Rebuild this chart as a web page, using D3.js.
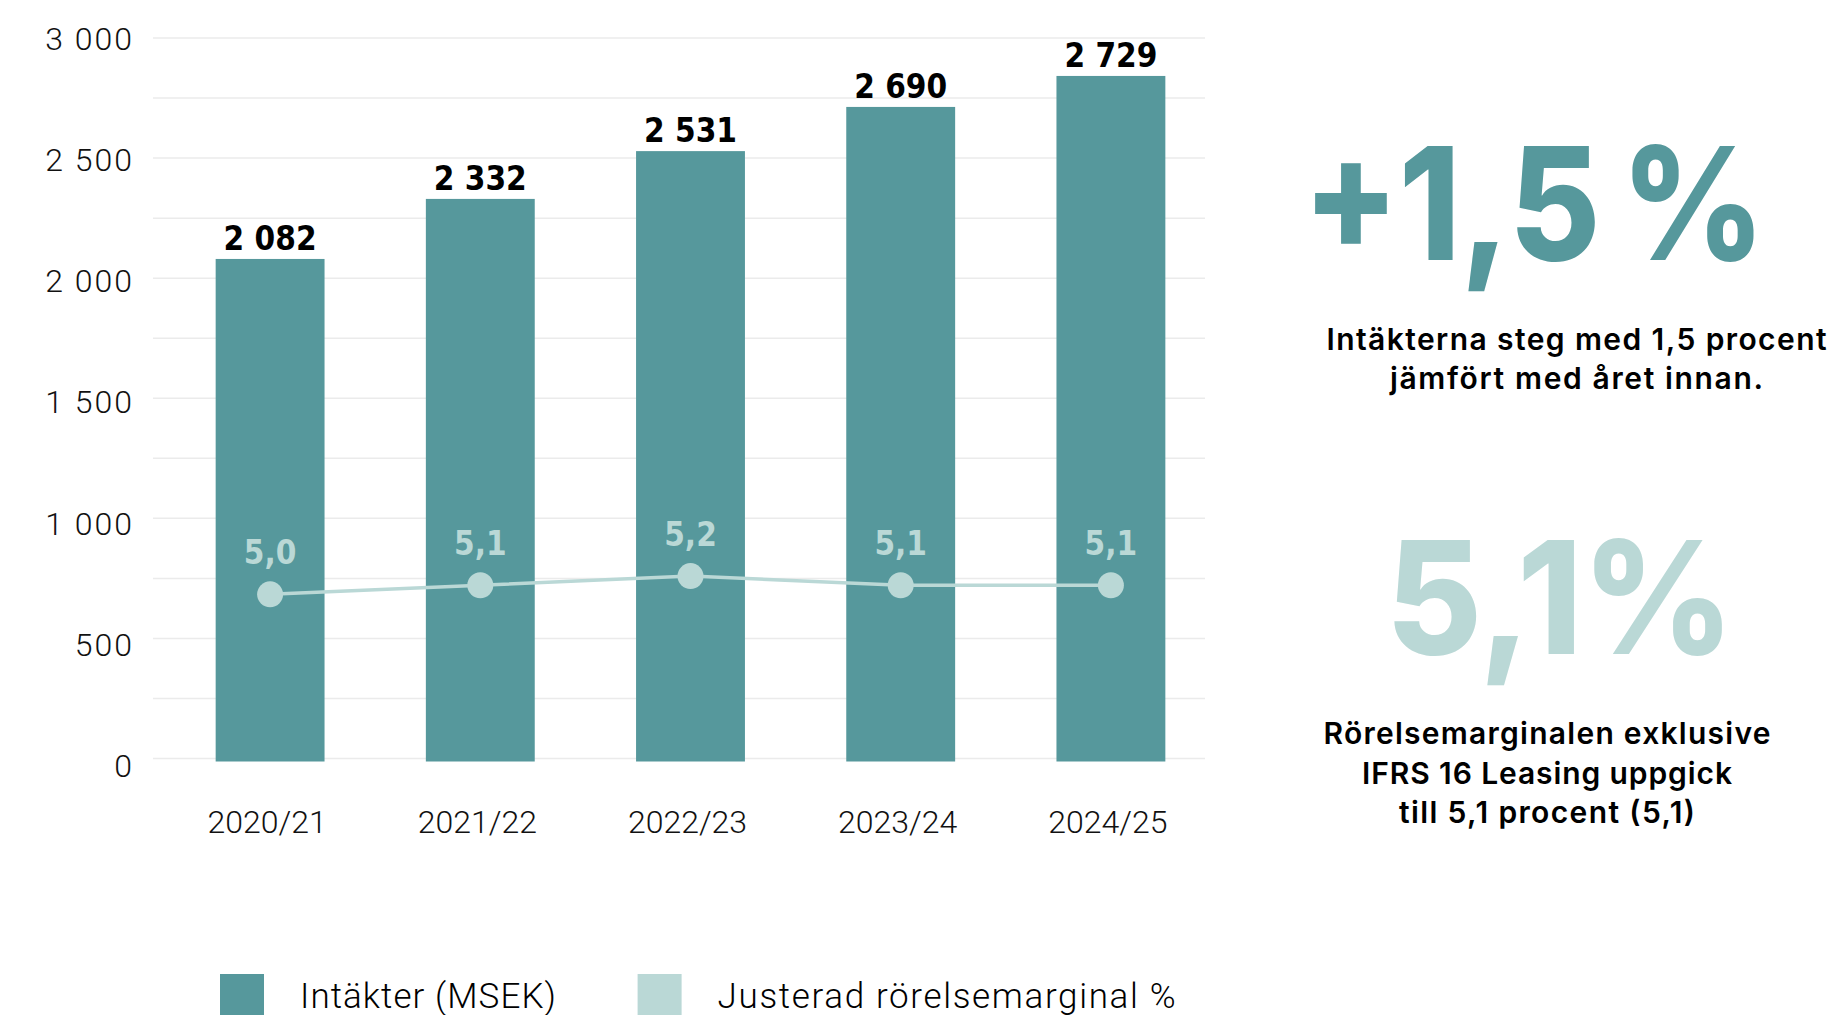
<!DOCTYPE html>
<html lang="sv">
<head>
<meta charset="utf-8">
<script src="https://cdn.jsdelivr.net/npm/d3@7"></script>
<style>
  body { margin: 0; background: #fff; }
  svg { display: block; }
  .tick-label { font-family: Roboto, "DejaVu Sans", sans-serif; font-weight: 300; font-size: 32px; fill: #111; }
  .value-label { font-family: "DejaVu Sans Condensed", "DejaVu Sans", sans-serif; font-stretch: condensed; font-weight: bold; font-size: 33px; }
  .big { font-family: Inter, Roboto, sans-serif; font-weight: 800; font-size: 157px; }
  .para { font-family: Inter, Roboto, sans-serif; font-weight: 600; font-size: 30px; fill: #000; }
  .legend-label { font-family: Roboto, sans-serif; font-weight: 300; font-size: 35px; fill: #000; }
</style>
</head>
<body>
<svg id="chart" width="1834" height="1015"></svg>
<script>
// data
const years = ["2020/21", "2021/22", "2022/23", "2023/24", "2024/25"];
const intakter = [2082, 2332, 2531, 2690, 2729];          // printed values (MSEK)
const barHeights = [2080, 2330, 2529, 2713, 2842];        // bar heights as drawn in the picture
const marginal = [5.0, 5.1, 5.2, 5.1, 5.1];               // justerad rörelsemarginal %
const yTicks = [0, 500, 1000, 1500, 2000, 2500, 3000];
const gridTicks = [0, 250, 500, 750, 1000, 1250, 1500, 1750, 2000, 2250, 2500, 2750, 3000];
const legendItems = ["Intäkter (MSEK)", "Justerad rörelsemarginal %"];
const bigRevenue = "+1,5\u2009%";
const bigMargin = "5,1%";
const revenueText = ["Intäkterna steg med 1,5 procent", "jämfört med året innan."];
const marginText = ["Rörelsemarginalen exklusive", "IFRS 16 Leasing uppgick", "till 5,1 procent (5,1)"];

const teal = "#56989c";
const lightTeal = "#bad8d6";
const gridColor = "#ebebeb";

const svg = d3.select("#chart");

const x = d3.scaleBand().domain(years).range([165, 1216]).paddingInner(0.482).paddingOuter(0.241);
const y = d3.scaleLinear().domain([0, 3000]).range([758.5, 38]);
// hidden secondary axis for the margin line
const y2 = d3.scaleLinear().domain([3.2, 11.1]).range([758.5, 38]);
// tick labels sit a little lower than their gridlines
const yLab = y.copy().range([y(0) + 18.5, y(3000) + 11.6]);

const fmt = d3.formatLocale({ decimal: ",", thousands: " ", grouping: [3], currency: ["", " kr"] });
const fmtInt = fmt.format(",d");
const fmtDec = fmt.format(".1f");

// gridlines
svg.append("g")
  .selectAll("line")
  .data(gridTicks)
  .join("line")
  .attr("x1", 153)
  .attr("x2", 1205)
  .attr("y1", (d) => y(d))
  .attr("y2", (d) => y(d))
  .attr("stroke", gridColor)
  .attr("stroke-width", 1.5);

// y tick labels
svg.append("g")
  .selectAll("text")
  .data(yTicks)
  .join("text")
  .attr("class", "tick-label")
  .attr("x", 134)
  .attr("y", (d) => yLab(d))
  .attr("text-anchor", "end")
  .style("letter-spacing", "2px")
  .text((d) => fmtInt(d));

// bars
svg.append("g")
  .selectAll("rect")
  .data(barHeights)
  .join("rect")
  .attr("x", (d, i) => x(years[i]))
  .attr("y", (d) => y(d))
  .attr("width", x.bandwidth())
  .attr("height", (d) => y(0) + 3 - y(d))
  .attr("fill", teal);

// value labels
svg.append("g")
  .selectAll("text")
  .data(intakter)
  .join("text")
  .attr("class", "value-label")
  .attr("x", (d, i) => x(years[i]) + x.bandwidth() / 2)
  .attr("y", (d, i) => y(barHeights[i]) - 9)
  .attr("text-anchor", "middle")
  .attr("fill", "#000")
  .text((d) => fmtInt(d));

// x labels
svg.append("g")
  .selectAll("text")
  .data(years)
  .join("text")
  .attr("class", "tick-label")
  .attr("x", (d) => x(d) + x.bandwidth() / 2 - 3)
  .attr("y", 833)
  .attr("text-anchor", "middle")
  .text((d) => d);

// margin line
const cx = (i) => x(years[i]) + x.bandwidth() / 2;
const line = d3.line().x((d, i) => cx(i)).y((d) => y2(d));

svg.append("path")
  .datum(marginal)
  .attr("d", line)
  .attr("fill", "none")
  .attr("stroke", lightTeal)
  .attr("stroke-width", 3.5);

svg.append("g")
  .selectAll("circle")
  .data(marginal)
  .join("circle")
  .attr("cx", (d, i) => cx(i))
  .attr("cy", (d) => y2(d))
  .attr("r", 13)
  .attr("fill", lightTeal);

svg.append("g")
  .selectAll("text")
  .data(marginal)
  .join("text")
  .attr("class", "value-label")
  .attr("x", (d, i) => cx(i))
  .attr("y", (d) => y2(d) - 30)
  .attr("text-anchor", "middle")
  .attr("fill", lightTeal)
  .text((d) => fmtDec(d));

// right-hand key figures
svg.append("text")
  .attr("class", "big")
  .attr("x", 1303)
  .attr("y", 260)
  .attr("fill", teal)
  .attr("textLength", 462)
  .attr("lengthAdjust", "spacingAndGlyphs")
  .text(bigRevenue);

svg.append("g")
  .selectAll("text")
  .data(revenueText)
  .join("text")
  .attr("class", "para")
  .attr("x", 1576.5)
  .attr("y", (d, i) => 350 + i * 38.5)
  .attr("text-anchor", "middle")
  .attr("textLength", (d, i) => [500, 373][i])
  .attr("lengthAdjust", "spacing")
  .text((d) => d);

svg.append("text")
  .attr("class", "big")
  .attr("x", 1386)
  .attr("y", 654)
  .attr("fill", lightTeal)
  .attr("textLength", 348)
  .attr("lengthAdjust", "spacingAndGlyphs")
  .text(bigMargin);

svg.append("g")
  .selectAll("text")
  .data(marginText)
  .join("text")
  .attr("class", "para")
  .attr("x", 1547)
  .attr("y", (d, i) => 744 + i * 39.5)
  .attr("text-anchor", "middle")
  .attr("textLength", (d, i) => [447, 370, 296][i])
  .attr("lengthAdjust", "spacing")
  .text((d) => d);

// legend
const legend = svg.append("g")
  .selectAll("g")
  .data(legendItems)
  .join("g")
  .attr("transform", (d, i) => `translate(${[220, 637.6][i]},974)`);

legend.append("rect")
  .attr("width", 44)
  .attr("height", 50)
  .attr("fill", (d, i) => [teal, lightTeal][i]);

legend.append("text")
  .attr("class", "legend-label")
  .attr("x", 80)
  .attr("y", 33.5)
  .attr("textLength", (d, i) => [256, 458][i])
  .attr("lengthAdjust", "spacing")
  .text((d) => d);
</script>
</body>
</html>
